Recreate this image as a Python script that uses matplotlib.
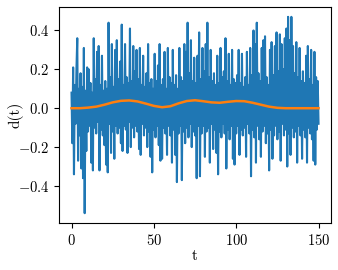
import numpy as np
import matplotlib
matplotlib.use("Agg")
import matplotlib.pyplot as plt

plt.rcParams["font.family"] = "serif"
plt.rcParams["font.serif"] = ["cmr10"]
plt.rcParams["mathtext.fontset"] = "cm"
plt.rcParams["axes.formatter.use_mathtext"] = True
plt.rcParams["font.size"] = 10

# noisy signal d(t), sampled every 0.5
t_step = 0.5
d_vals = [
    0.08, -0.18, 0.21, -0.34, 0.12, -0.08, 0.20, 0.36, -0.27, 0.10, -0.14, 0.18, -0.31, 0.11, -0.36, 0.31, -0.54, 0.09, -0.22, 0.21,
    -0.12, 0.20, -0.09, 0.13, -0.28, 0.08, -0.32, 0.36, -0.10, 0.15, -0.13, 0.29, -0.07, 0.32, -0.32, 0.12, -0.11, 0.27, -0.14, 0.09,
    -0.19, 0.14, -0.29, 0.10, -0.33, 0.44, -0.08, 0.16, -0.23, 0.33, -0.12, 0.11, -0.26, 0.30, -0.09, 0.35, -0.13, 0.15, -0.10, 0.24,
    -0.18, 0.43, -0.22, 0.12, -0.09, 0.33, -0.11, 0.16, -0.23, 0.13, -0.07, 0.41, -0.20, 0.14, -0.10, 0.32, -0.15, 0.19, -0.09, 0.30,
    -0.12, 0.15, -0.21, 0.31, -0.24, 0.12, -0.08, 0.27, -0.14, 0.11, -0.10, 0.18, -0.20, 0.33, -0.12, 0.13, -0.25, 0.15, -0.33, 0.10,
    -0.11, 0.28, -0.15, 0.14, -0.09, 0.22, -0.19, 0.33, -0.27, 0.12, -0.26, 0.15, -0.10, 0.29, -0.13, 0.10, -0.24, 0.31, -0.09, 0.16,
    -0.14, 0.13, -0.28, 0.30, -0.11, 0.12, -0.24, 0.17, -0.38, 0.10, -0.13, 0.31, -0.09, 0.16, -0.37, 0.14, -0.12, 0.33, -0.18, 0.29,
    -0.10, 0.44, -0.15, 0.18, -0.08, 0.35, -0.20, 0.14, -0.12, 0.26, -0.14, 0.13, -0.36, 0.27, -0.09, 0.39, -0.35, 0.15, -0.13, 0.31,
    -0.09, 0.19, -0.25, 0.33, -0.12, 0.44, -0.10, 0.16, -0.28, 0.30, -0.08, 0.14, -0.21, 0.18, -0.11, 0.12, -0.23, 0.27, -0.34, 0.13,
    -0.12, 0.31, -0.15, 0.16, -0.08, 0.19, -0.13, 0.36, -0.31, 0.14, -0.11, 0.28, -0.16, 0.12, -0.09, 0.30, -0.26, 0.15, -0.29, 0.13,
    -0.13, 0.17, -0.09, 0.30, -0.24, 0.13, -0.11, 0.28, -0.14, 0.11, -0.10, 0.16, -0.25, 0.29, -0.08, 0.12, -0.13, 0.31, -0.35, 0.17,
    -0.11, 0.40, -0.15, 0.33, -0.28, 0.44, -0.09, 0.18, -0.16, 0.14, -0.25, 0.31, -0.12, 0.35, -0.09, 0.37, -0.18, 0.16, -0.13, 0.12,
    -0.32, 0.30, -0.11, 0.34, -0.26, 0.17, -0.14, 0.32, -0.09, 0.39, -0.16, 0.19, -0.12, 0.38, -0.27, 0.33, -0.08, 0.20, -0.14, 0.36,
    -0.11, 0.41, -0.30, 0.47, -0.13, 0.35, -0.24, 0.47, -0.10, 0.32, -0.15, 0.18, -0.12, 0.34, -0.28, 0.16, -0.09, 0.31, -0.14, 0.14,
    -0.26, 0.19, -0.11, 0.13, -0.15, 0.27, -0.28, 0.32, -0.10, 0.15, -0.13, 0.30, -0.16, 0.12, -0.27, 0.29, -0.29, 0.16, -0.11, 0.14,
    -0.08,
]

# smooth trend, sampled every 5
trend_t = [0, 5, 10, 15, 20, 25, 30, 35, 40, 45, 50, 55, 60, 65, 70, 75,
           80, 85, 90, 95, 100, 105, 110, 115, 120, 125, 130, 135, 140, 145, 150]
trend_vals = [0.0, 0.0, 0.003, 0.008, 0.018, 0.03, 0.038, 0.04, 0.035, 0.024, 0.012, 0.005,
              0.01, 0.025, 0.037, 0.041, 0.036, 0.03, 0.028, 0.033, 0.037, 0.036, 0.028, 0.018,
              0.008, 0.002, 0.0, 0.0, 0.0, 0.0, 0.0]

t = np.arange(len(d_vals)) * t_step

fig = plt.figure(figsize=(3.38, 2.70), dpi=100)
ax = fig.add_axes([0.175, 0.174, 0.804, 0.80])
ax.plot(t, d_vals, color="#1f77b4", lw=1.5)
ax.plot(trend_t, trend_vals, color="#ff7f0e", lw=1.8)
ax.set_xlabel("t", labelpad=1, fontsize=11)
ax.set_ylabel("d(t)", labelpad=-4, fontsize=11)
ax.set_xticks([0, 50, 100, 150])
ax.set_yticks([-0.4, -0.2, 0.0, 0.2, 0.4])
ax.tick_params(labelsize=10.5)

fig.savefig("out.png", dpi=100)
